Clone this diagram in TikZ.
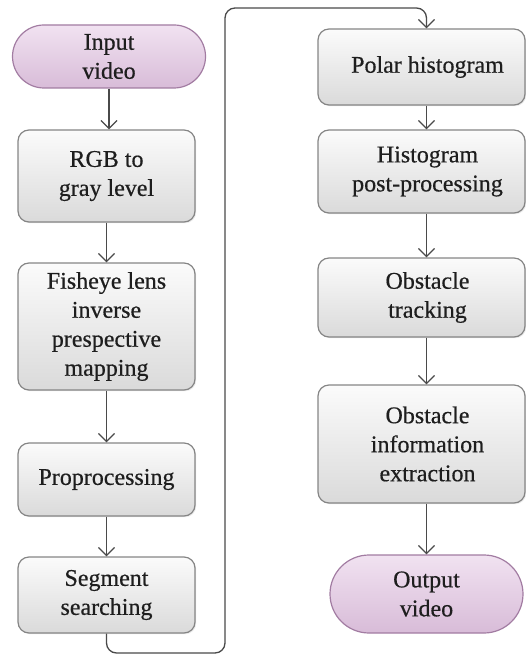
\documentclass[tikz,border=0pt]{standalone}
\usepackage{fontspec}
\setmainfont{Liberation Serif}
\newfontfamily\stepfont[FakeBold=0.5]{Liberation Serif}
\usetikzlibrary{arrows.meta,shapes.misc,shadows}

\definecolor{boxline}{HTML}{858585}
\definecolor{boxtop}{HTML}{FBFBFB}
\definecolor{boxbot}{HTML}{DADADA}
\definecolor{termline}{HTML}{A27CA2}
\definecolor{termtop}{HTML}{F1E2F1}
\definecolor{termbot}{HTML}{D8BCD8}
\definecolor{inkc}{HTML}{1E1E1E}
\definecolor{wire}{HTML}{4A4A4A}

\tikzset{
  procbox/.style={draw=boxline, line width=1.2pt, rounded corners=11pt,
    top color=boxtop, bottom color=boxbot, inner sep=0pt,
    drop shadow={opacity=0.18, shadow xshift=1.2pt, shadow yshift=-1.2pt}},
  termbox/.style={rounded rectangle, draw=termline, line width=1.2pt,
    top color=termtop, bottom color=termbot, inner sep=0pt,
    text=inkc, align=center, font=\stepfont\fontsize{24}{29}\selectfont},
  steptext/.style={text=inkc, align=center, inner sep=0pt,
    font=\stepfont\fontsize{24}{29}\selectfont},
  conn/.style={draw=wire, line width=1.3pt,
    -{Straight Barb[length=8pt,width=16pt,line width=1.3pt]}}
}

\begin{document}
\begin{tikzpicture}[x=1pt,y=-1pt]
\useasboundingbox (0,0) rectangle (526,655);

% start and end terminals
\node[termbox, minimum width=193pt, minimum height=63pt] (in) at (109,56.5) {Input\\video};
\node[termbox, minimum width=193pt, minimum height=78pt] (out) at (426.5,594) {Output\\video};

% left column of processing steps
\node[procbox, minimum width=177pt, minimum height=92pt]  (rgb)  at (106.5,176)   {};
\node[procbox, minimum width=177pt, minimum height=127pt] (fish) at (106.5,326.5) {};
\node[procbox, minimum width=177pt, minimum height=73pt]  (pre)  at (106.5,479.5) {};
\node[procbox, minimum width=177pt, minimum height=76pt]  (seg)  at (106.5,595)   {};

\node[steptext] (rgbT)  at (rgb)  {RGB to\\gray level};
\node[steptext] (fishT) at (fish) {Fisheye lens\\inverse\\prespective\\mapping};
\node[steptext] (preT)  at (pre)  {Proprocessing};
\node[steptext] (segT)  at (seg)  {Segment\\searching};

% right column of processing steps
\node[procbox, minimum width=207pt, minimum height=76pt]  (polar) at (421.5,67)    {};
\node[procbox, minimum width=207pt, minimum height=83pt]  (hist)  at (421.5,171.5) {};
\node[procbox, minimum width=207pt, minimum height=79pt]  (track) at (421.5,297.5) {};
\node[procbox, minimum width=207pt, minimum height=118pt] (info)  at (421.5,444)   {};

\node[steptext] (polarT) at ([xshift=6pt]polar.center) {Polar histogram};
\node[steptext] (histT)  at ([xshift=6pt]hist.center)  {Histogram\\post-processing};
\node[steptext] (trackT) at ([xshift=6pt]track.center) {Obstacle\\tracking};
\node[steptext] (infoT)  at ([xshift=6pt]info.center)  {Obstacle\\information\\extraction};

% left column flow
\draw[conn] (in.south)   -- (in.south |- rgb.north);
\draw[conn] (rgb.south)  -- (fish.north);
\draw[conn] (fish.south) -- (pre.north);
\draw[conn] (pre.south)  -- (seg.north);

% loop over to the right column
\coordinate (loopB) at (225,653);
\coordinate (loopT) at (225,8);
\draw[conn, rounded corners=10pt] (seg.south) |- (loopB) -- (loopT) -| (polar.north -| out);

% right column flow
\draw[conn] (polar.south -| out) -- (hist.north -| out);
\draw[conn] (hist.south -| out)  -- (track.north -| out);
\draw[conn] (track.south -| out) -- (info.north -| out);
\draw[conn] (info.south -| out)  -- (out.north);
\end{tikzpicture}
\end{document}
